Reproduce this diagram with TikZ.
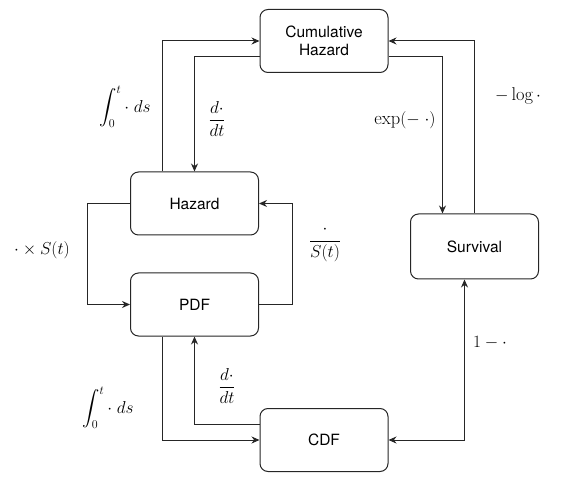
\documentclass[tikz,border=0pt]{standalone}
\usepackage{amsmath}
\usepackage{fontspec}
\setsansfont{TeX Gyre Heros}
\usetikzlibrary{arrows.meta}

\begin{document}
\begin{tikzpicture}[
  x=1pt, y=-1pt,
  -{Stealth[length=8pt,width=7pt]}, line width=1pt, draw=black!85,
  st/.style={draw, rounded corners=8pt,
             minimum width=128pt, minimum height=63pt,
             align=center, font=\sffamily\fontsize{15.5}{18}\selectfont, fill=white},
  lbl/.style={font=\fontsize{18.5}{22}\selectfont, inner sep=1pt},
]
\useasboundingbox (0,0) rectangle (562,478);

% Boxes (pixel coordinates of the sheet, y downwards)
\node[st] (CH)  at (324,41)      {Cumulative\\Hazard};
\node[st] (Hz)  at (194.5,203.5) {Hazard};
\node[st] (PDF) at (194.5,304.5) {PDF};
\node[st] (CDF) at (324,440)     {CDF};
\node[st, minimum height=65pt] (Sv) at (474.5,246.5) {Survival};

% --- Cumulative hazard <-> hazard ---
\draw ([xshift=-32pt]Hz.north) |- (CH.west);
\draw ([yshift=-16pt]CH.west) -| (Hz.north);
\node[lbl] (intA) at (125,107) {$\displaystyle\int_0^t \cdot\; ds$};
\node[lbl] (dA)   at (217,119) {$\dfrac{d\cdot}{dt}$};

% --- Cumulative hazard <-> survival ---
\draw ([yshift=-16pt]CH.east) -| ([xshift=-32pt]Sv.north);
\draw (Sv.north) |- (CH.east);
\node[lbl] (expL) at (405,120) {$\exp(-\;\cdot)$};
\node[lbl] (logL) at (518,96)  {$-\log\cdot$};

% --- Hazard <-> PDF ---
\draw (Hz.west) -- ++(-43,0) |- (PDF.west);
\draw (PDF.east) -- ++(33,0) |- (Hz.east);
\node[lbl] (mulS) at (42,250)  {$\cdot\times S(t)$};
\node[lbl] (divS) at (325,244) {$\dfrac{\cdot}{S(t)}$};

% --- PDF <-> CDF ---
\draw ([xshift=-32pt]PDF.south) |- (CDF.west);
\draw ([yshift=16pt]CDF.west) -| (PDF.south);
\node[lbl] (intB) at (108,408) {$\displaystyle\int_0^t \cdot\; ds$};
\node[lbl] (dB)   at (227,386) {$\dfrac{d\cdot}{dt}$};

% --- CDF <-> survival ---
\draw[{Stealth[length=8pt,width=7pt]}-{Stealth[length=8pt,width=7pt]}]
  (CDF.east) -| ([xshift=-10pt]Sv.south);
\node[lbl] (oneM) at (490,343) {$1-\cdot$};
\end{tikzpicture}
\end{document}
